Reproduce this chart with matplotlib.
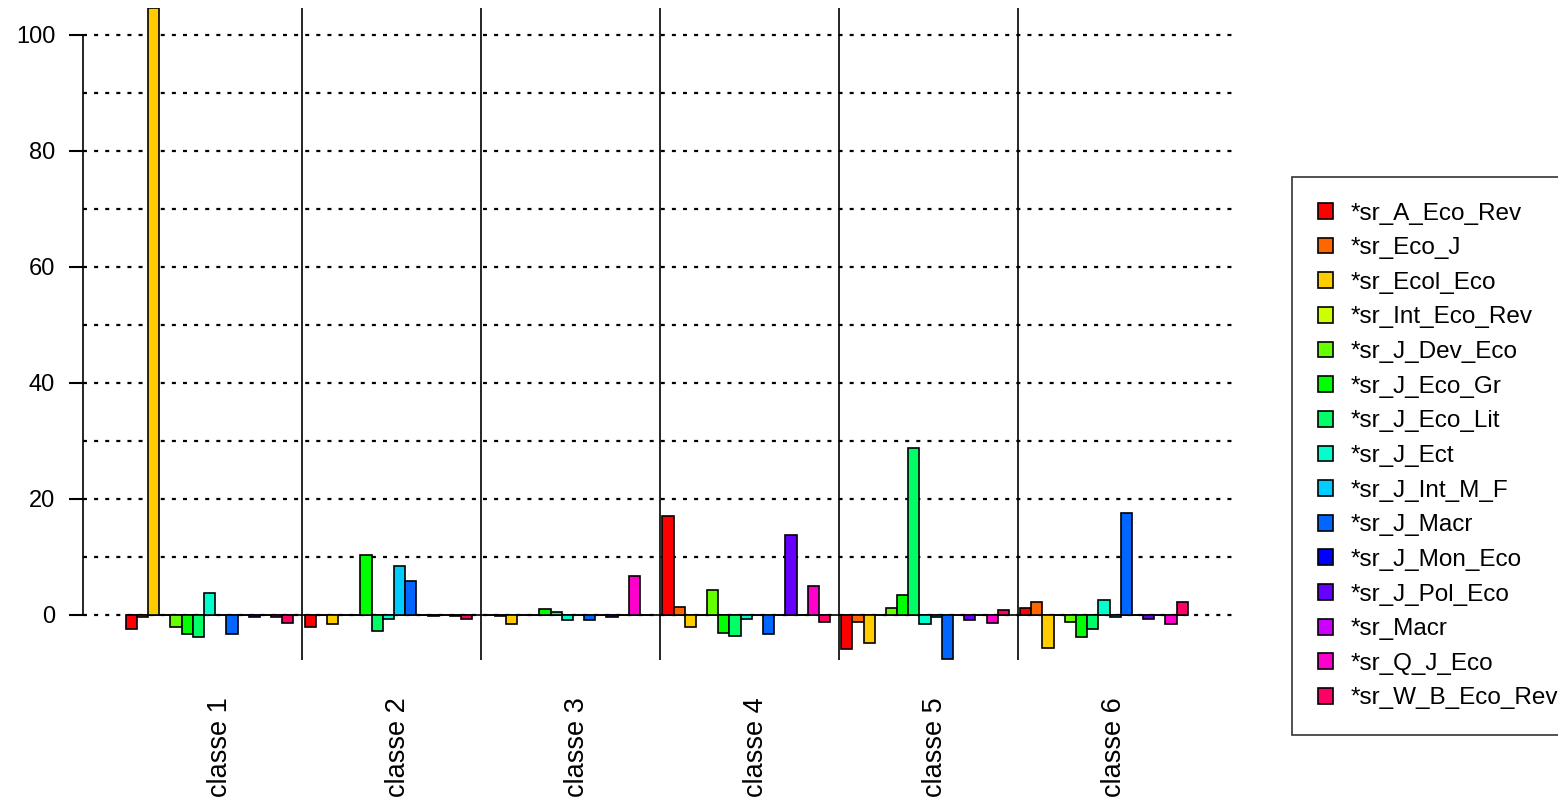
import matplotlib
matplotlib.use("Agg")
import matplotlib.pyplot as plt
from matplotlib import font_manager
from matplotlib.patches import Patch
import numpy as np

# values
classes = ["classe 1", "classe 2", "classe 3", "classe 4", "classe 5", "classe 6"]
series = ["*sr_A_Eco_Rev", "*sr_Eco_J", "*sr_Ecol_Eco", "*sr_Int_Eco_Rev",
          "*sr_J_Dev_Eco", "*sr_J_Eco_Gr", "*sr_J_Eco_Lit", "*sr_J_Ect",
          "*sr_J_Int_M_F", "*sr_J_Macr", "*sr_J_Mon_Eco", "*sr_J_Pol_Eco",
          "*sr_Macr", "*sr_Q_J_Eco", "*sr_W_B_Eco_Rev"]
classe1 = [-2.5, -0.5, 104.6, 0, -2.2, -3.3, -3.8, 3.7, 0, -3.4, 0, -0.4, 0, -0.4, -1.4]
classe2 = [-2.1, 0, -1.6, 0, 0, 10.3, -2.8, -0.8, 8.3, 5.8, 0, -0.3, 0, -0.3, -0.8]
classe3 = [0, -0.3, -1.7, 0, 0, 0.9, 0.4, -0.9, 0, -0.9, 0, -0.4, 0, 6.7, 0]
classe4 = [17.0, 1.3, -2.1, 0, 4.3, -3.2, -3.7, -0.8, 0, -3.3, 0, 13.7, 0, 4.9, -1.3]
classe5 = [-6.0, -1.3, -5.0, 0, 1.2, 3.4, 28.8, -1.7, -0.4, -7.6, 0, -1.0, 0, -1.4, 0.8]
classe6 = [1.2, 2.1, -5.8, 0, -1.3, -3.8, -2.5, 2.5, -0.5, 17.5, 0, -0.8, 0, -1.7, 2.1]
values = [classe1, classe2, classe3, classe4, classe5, classe6]

# R rainbow(15)
colors = ["#FF0000", "#FF6600", "#FFCC00", "#CCFF00", "#66FF00", "#00FF00",
          "#00FF66", "#00FFCC", "#00CCFF", "#0066FF", "#0000FF", "#6600FF",
          "#CC00FF", "#FF00CC", "#FF0066"]

plt.rcParams["font.family"] = ["Liberation Sans", "DejaVu Sans"]

try:
    font_manager.findfont("Liberation Sans Narrow", fallback_to_default=False)
    tick_font = dict(family="Liberation Sans Narrow", size=20)
except Exception:
    tick_font = dict(family="Liberation Sans", size=17)

W, H = 1558, 805
fig = plt.figure(figsize=(W / 100, H / 100), dpi=100)
ax = fig.add_axes([83 / W, 1 - 660 / H, (1237 - 83) / W, (660 - 8) / H])

n = len(series)
group_w = n + 1
for g, vals in enumerate(values):
    x = g * group_w + 1 + np.arange(n)
    ax.bar(x, vals, width=1, align="edge", color=colors,
           edgecolor="black", linewidth=1.2, zorder=3)

ax.set_xlim(-2.82, 100.4)
ax.set_ylim(-7.85, 104.65)

# dotted grid
for yv in range(0, 101, 10):
    ax.axhline(yv, color="black", linewidth=1.6, linestyle=(0, (1.8, 3.2)), zorder=1)
ax.hlines(0, 1, (len(classes) - 1) * group_w + 1 + n, color="black", linewidth=1.2, zorder=2)

# separators between classes
for g in range(1, len(classes)):
    ax.axvline(g * group_w + 1 - 0.2, color="black", linewidth=1.2, zorder=2)

for s in ["top", "right", "bottom"]:
    ax.spines[s].set_visible(False)
ax.spines["left"].set_bounds(0, 100)
ax.spines["left"].set_linewidth(1.2)
ax.set_yticks(range(0, 101, 20))
ax.set_yticklabels([str(v) for v in range(0, 101, 20)], fontdict=tick_font)
ax.tick_params(axis="y", length=10, width=1.5, pad=10)
ax.set_xticks([])

# class labels, vertical
for g, name in enumerate(classes):
    xc = g * group_w + 1 + n / 2 + 0.9
    ax.text(xc, -37 / 652, name, transform=ax.get_xaxis_transform(),
            rotation=90, ha="center", va="top", fontsize=19.5)

handles = [Patch(facecolor=c, edgecolor="black", linewidth=1.2) for c in colors]
leg = fig.legend(handles, series, loc="upper left",
                 bbox_to_anchor=(1292 / W, 1 - 177 / H), fontsize=17.5,
                 frameon=True, fancybox=False, edgecolor="black",
                 borderpad=1.05, handlelength=0.62, handleheight=0.62,
                 handletextpad=0.75, labelspacing=0.52, borderaxespad=0)
leg.get_frame().set_linewidth(1.2)

fig.savefig("out.png", dpi=100)
